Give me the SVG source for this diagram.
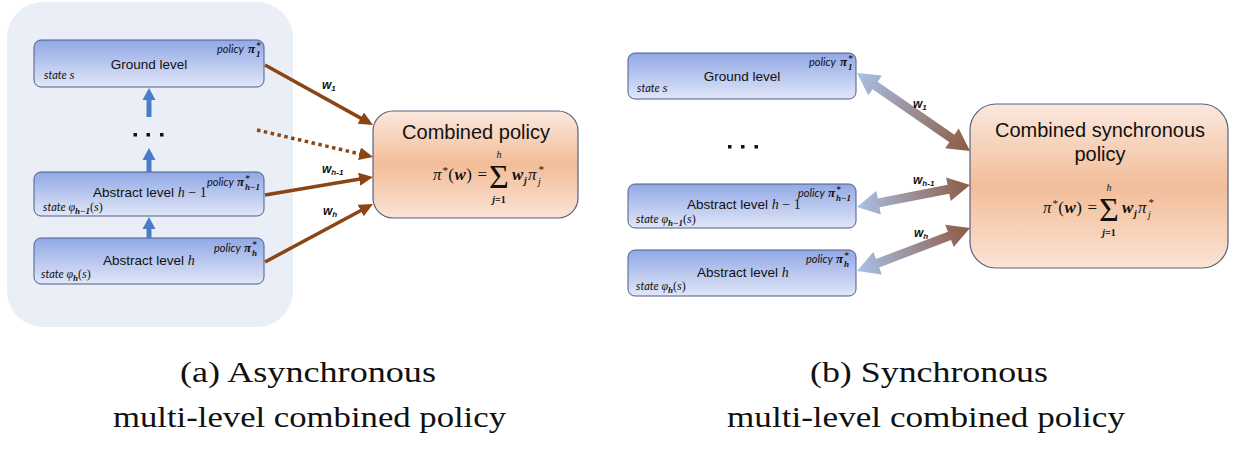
<svg xmlns="http://www.w3.org/2000/svg" width="1239" height="450" viewBox="0 0 1239 450">
  <style>
    .panel { fill: #e9eef7; }
    .lvl { fill: url(#lvlGrad); stroke: #4d5d86; stroke-width: 1; }
    .comb { fill: url(#combGrad); stroke: #56627e; stroke-width: 1.2; }
    .name { font-family: "Liberation Sans", Arial, sans-serif; font-size: 13.5px; fill: #111; }
    .big { font-family: "Liberation Sans", Arial, sans-serif; font-size: 20px; fill: #111; }
    .tag { font-family: Lato, "Open Sans", sans-serif; font-style: italic; font-size: 11px; fill: #111; }
    .m { font-family: "Liberation Serif", "DejaVu Serif", serif; font-style: italic; fill: #111; }
    .mb { font-family: "Liberation Serif", "DejaVu Serif", serif; font-style: italic; font-weight: bold; fill: #111; }
    .mu { font-family: "Liberation Serif", "DejaVu Serif", serif; font-style: normal; fill: #111; }
    .wl { font-family: "Liberation Sans", Arial, sans-serif; font-style: italic; font-weight: bold; font-size: 12px; fill: #111; }
    .brown { stroke: #8b4513; stroke-width: 3.5; fill: none; }
    .dotted { stroke-dasharray: 3.5 3.5; }
    .up { fill: #4a7cc8; }
    .dot { fill: #111; }
    .dbl { fill: url(#dblGrad); }
    .cap { font-family: "Liberation Serif", "DejaVu Serif", serif; font-size: 30px; fill: #111; text-anchor: middle; }
  </style>
  <defs>
    <linearGradient id="lvlGrad" x1="0" y1="0" x2="0" y2="1">
      <stop offset="0" stop-color="#91a8e6"/>
      <stop offset="1" stop-color="#e1e7f8"/>
    </linearGradient>
    <linearGradient id="combGrad" x1="0" y1="0" x2="0" y2="1">
      <stop offset="0" stop-color="#fbe8de"/>
      <stop offset="0.5" stop-color="#f2bd98"/>
      <stop offset="1" stop-color="#fbe3d5"/>
    </linearGradient>
    <linearGradient id="dblGrad" x1="0" y1="0" x2="1" y2="0">
      <stop offset="0" stop-color="#a9c1e8"/>
      <stop offset="1" stop-color="#8d5a40"/>
    </linearGradient>
    <marker id="head" markerUnits="userSpaceOnUse" markerWidth="16" markerHeight="14" refX="4" refY="6.5" orient="auto">
      <path d="M0,0 L14,6.5 L0,13 z" fill="#8b4513"/>
    </marker>
  </defs>

  <!-- (a) asynchronous panel -->
  <rect class="panel" x="7" y="2" width="286" height="325" rx="36"/>

  <g id="a-ground">
    <rect class="lvl" x="34" y="40" width="230" height="47" rx="7"/>
    <text class="name" x="149" y="69" text-anchor="middle">Ground level</text>
    <text class="tag" x="217" y="53">policy</text>
    <text class="mb" x="248" y="53" font-size="13">π</text>
    <text class="mb" x="256" y="48" font-size="9">*</text>
    <text class="mb" x="256" y="57" font-size="9">1</text>
    <text class="tag" x="44" y="79">state <tspan class="m" font-size="13">s</tspan></text>
  </g>

  <g id="a-abstract-h1">
    <rect class="lvl" x="34" y="172" width="230" height="44" rx="7"/>
    <text class="name" x="93" y="197">Abstract level <tspan class="m" font-size="14">h</tspan><tspan class="mu" font-size="14"> − 1</tspan></text>
    <text class="tag" x="207" y="186">policy</text>
    <text class="mb" x="237" y="186" font-size="13">π</text>
    <text class="mb" x="245" y="181" font-size="9">*</text>
    <text class="mb" x="245" y="190" font-size="9">h−1</text>
    <text class="tag" x="43" y="211">state <tspan class="m" font-size="12">φ</tspan><tspan class="mb" font-size="9" dy="3">h−1</tspan><tspan class="mu" font-size="12" dy="-3">(</tspan><tspan class="m" font-size="12">s</tspan><tspan class="mu" font-size="12">)</tspan></text>
  </g>

  <g id="a-abstract-h">
    <rect class="lvl" x="34" y="238" width="230" height="46" rx="7"/>
    <text class="name" x="103" y="265">Abstract level <tspan class="m" font-size="14">h</tspan></text>
    <text class="tag" x="214" y="252">policy</text>
    <text class="mb" x="244" y="252" font-size="13">π</text>
    <text class="mb" x="252" y="247" font-size="9">*</text>
    <text class="mb" x="252" y="256" font-size="9">h</text>
    <text class="tag" x="41" y="278">state <tspan class="m" font-size="12">φ</tspan><tspan class="mb" font-size="9" dy="3">h</tspan><tspan class="mu" font-size="12" dy="-3">(</tspan><tspan class="m" font-size="12">s</tspan><tspan class="mu" font-size="12">)</tspan></text>
  </g>

  <!-- upward flow between levels -->
  <g id="a-upward">
    <path class="up" d="M146.5,117 V100 H142.5 L149,88 L155.5,100 H151.5 V117 z"/>
    <path class="up" d="M146.5,172 V160 H142.5 L149,148 L155.5,160 H151.5 V172 z"/>
    <path class="up" d="M146.5,238 V229 H142.5 L149,217 L155.5,229 H151.5 V238 z"/>
    <rect class="dot" x="133.5" y="133" width="3.5" height="3.5"/>
    <rect class="dot" x="146.5" y="133" width="3.5" height="3.5"/>
    <rect class="dot" x="160" y="133" width="3.5" height="3.5"/>
  </g>

  <g id="a-combined">
    <rect class="comb" x="373" y="111" width="205" height="107" rx="20"/>
    <text class="big" x="476" y="139" text-anchor="middle">Combined policy</text>
    <text class="m" x="433" y="180" font-size="17" textLength="54" lengthAdjust="spacing">π<tspan font-size="11" dy="-6">*</tspan><tspan class="mu" dy="6">(</tspan><tspan class="mb">w</tspan><tspan class="mu">) =</tspan></text>
    <text class="mu" x="499" y="188" font-size="34" text-anchor="middle">Σ</text>
    <text class="m" x="499" y="158" font-size="10" text-anchor="middle">h</text>
    <text class="mb" x="499" y="203" font-size="10" text-anchor="middle">j<tspan class="mu">=1</tspan></text>
    <text class="mb" x="512" y="180" font-size="17">w</text>
    <text class="mb" x="524" y="184" font-size="10">j</text>
    <text class="m" x="528" y="180" font-size="17">π</text>
    <text class="m" x="538" y="173" font-size="11">*</text>
    <text class="m" x="538" y="185" font-size="10">j</text>
  </g>

  <g id="a-connectors">
    <line class="brown" x1="265" y1="65" x2="364.3" y2="120.1" marker-end="url(#head)"/>
    <line class="brown dotted" x1="257" y1="130" x2="363.3" y2="154.7" marker-end="url(#head)"/>
    <line class="brown" x1="265" y1="195" x2="363.1" y2="178.6" marker-end="url(#head)"/>
    <line class="brown" x1="265" y1="262" x2="364.2" y2="208.7" marker-end="url(#head)"/>
    <text class="wl" x="322" y="89">w<tspan font-size="8" dy="2">1</tspan></text>
    <text class="wl" x="322" y="173">w<tspan font-size="8" dy="2">h-1</tspan></text>
    <text class="wl" x="323" y="215">w<tspan font-size="8" dy="2">h</tspan></text>
  </g>

  <!-- (b) synchronous panel -->
  <g id="b-ground">
    <rect class="lvl" x="628" y="53" width="228" height="46" rx="7"/>
    <text class="name" x="742" y="81" text-anchor="middle">Ground level</text>
    <text class="tag" x="809" y="66">policy</text>
    <text class="mb" x="840" y="66" font-size="13">π</text>
    <text class="mb" x="848" y="61" font-size="9">*</text>
    <text class="mb" x="848" y="70" font-size="9">1</text>
    <text class="tag" x="637" y="92">state <tspan class="m" font-size="13">s</tspan></text>
  </g>

  <g id="b-abstract-h1">
    <rect class="lvl" x="628" y="184" width="228" height="44" rx="7"/>
    <text class="name" x="687" y="209">Abstract level <tspan class="m" font-size="14">h</tspan><tspan class="mu" font-size="14"> − 1</tspan></text>
    <text class="tag" x="798" y="197">policy</text>
    <text class="mb" x="828" y="197" font-size="13">π</text>
    <text class="mb" x="836" y="192" font-size="9">*</text>
    <text class="mb" x="836" y="201" font-size="9">h−1</text>
    <text class="tag" x="636" y="223">state <tspan class="m" font-size="12">φ</tspan><tspan class="mb" font-size="9" dy="3">h−1</tspan><tspan class="mu" font-size="12" dy="-3">(</tspan><tspan class="m" font-size="12">s</tspan><tspan class="mu" font-size="12">)</tspan></text>
  </g>

  <g id="b-abstract-h">
    <rect class="lvl" x="628" y="250" width="228" height="46" rx="7"/>
    <text class="name" x="697" y="277">Abstract level <tspan class="m" font-size="14">h</tspan></text>
    <text class="tag" x="806" y="263">policy</text>
    <text class="mb" x="836" y="263" font-size="13">π</text>
    <text class="mb" x="844" y="258" font-size="9">*</text>
    <text class="mb" x="844" y="267" font-size="9">h</text>
    <text class="tag" x="636" y="290">state <tspan class="m" font-size="12">φ</tspan><tspan class="mb" font-size="9" dy="3">h</tspan><tspan class="mu" font-size="12" dy="-3">(</tspan><tspan class="m" font-size="12">s</tspan><tspan class="mu" font-size="12">)</tspan></text>
  </g>

  <g id="b-ellipsis">
    <rect class="dot" x="728" y="145" width="3.5" height="3.5"/>
    <rect class="dot" x="741" y="145" width="3.5" height="3.5"/>
    <rect class="dot" x="754.5" y="145" width="3.5" height="3.5"/>
  </g>

  <g id="b-combined">
    <rect class="comb" x="970" y="104" width="258" height="164" rx="26"/>
    <text class="big" x="1100" y="137" text-anchor="middle">Combined synchronous</text>
    <text class="big" x="1100" y="161" text-anchor="middle">policy</text>
    <text class="m" x="1043" y="213" font-size="17" textLength="54" lengthAdjust="spacing">π<tspan font-size="11" dy="-6">*</tspan><tspan class="mu" dy="6">(</tspan><tspan class="mb">w</tspan><tspan class="mu">) =</tspan></text>
    <text class="mu" x="1109" y="221" font-size="34" text-anchor="middle">Σ</text>
    <text class="m" x="1109" y="191" font-size="10" text-anchor="middle">h</text>
    <text class="mb" x="1109" y="236" font-size="10" text-anchor="middle">j<tspan class="mu">=1</tspan></text>
    <text class="mb" x="1122" y="213" font-size="17">w</text>
    <text class="mb" x="1134" y="217" font-size="10">j</text>
    <text class="m" x="1138" y="213" font-size="17">π</text>
    <text class="m" x="1148" y="206" font-size="11">*</text>
    <text class="m" x="1148" y="218" font-size="10">j</text>
  </g>

  <g id="b-connectors">
    <!-- two-headed arrows drawn along +x, then placed -->
    <polygon class="dbl" transform="translate(857,73) rotate(34.6)" points="0,0 22,-12 22,-4.5 115.3,-4.5 115.3,-12 137.3,0 115.3,12 115.3,4.5 22,4.5 22,12"/>
    <polygon class="dbl" transform="translate(857,207) rotate(-11)" points="0,0 22,-12 22,-4.5 93.1,-4.5 93.1,-12 115.1,0 93.1,12 93.1,4.5 22,4.5 22,12"/>
    <polygon class="dbl" transform="translate(857,271) rotate(-20.8)" points="0,0 22,-12 22,-4.5 98.9,-4.5 98.9,-12 120.9,0 98.9,12 98.9,4.5 22,4.5 22,12"/>
    <text class="wl" x="913" y="108">w<tspan font-size="8" dy="2">1</tspan></text>
    <text class="wl" x="913" y="184">w<tspan font-size="8" dy="2">h-1</tspan></text>
    <text class="wl" x="914" y="237">w<tspan font-size="8" dy="2">h</tspan></text>
  </g>

  <!-- captions -->
  <text class="cap" x="308" y="382" textLength="256" lengthAdjust="spacingAndGlyphs">(a) Asynchronous</text>
  <text class="cap" x="309.5" y="427" textLength="393" lengthAdjust="spacingAndGlyphs">multi-level combined policy</text>
  <text class="cap" x="929" y="382" textLength="238" lengthAdjust="spacingAndGlyphs">(b) Synchronous</text>
  <text class="cap" x="926" y="427" textLength="398" lengthAdjust="spacingAndGlyphs">multi-level combined policy</text>
</svg>
